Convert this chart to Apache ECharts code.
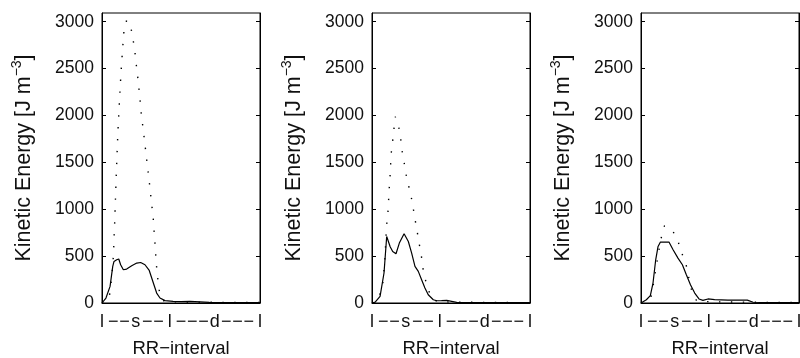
<!DOCTYPE html>
<html>
<head>
<meta charset="utf-8">
<script src="https://cdn.jsdelivr.net/npm/echarts@6/dist/echarts.min.js"></script>
<style>
html,body{margin:0;padding:0;background:#fff;}
#chart{width:800px;height:358px;}
</style>
</head>
<body>
<div id="chart"></div>
<script>
// x: position within RR-interval (0..100), y: kinetic energy [J m^-3]
const xTickLabels = ['l','−','−','s','−','−','l','−','−','−','d','−','−','−','l'];
const yTickValues = [0, 500, 1000, 1500, 2000, 2500, 3000];

const panel1Solid = [[0,0],[2.5,53],[5.1,177],[6.8,390],[7.6,443],[9.3,461],[10.6,469],[11.8,408],[13.5,355],[15.6,362],[18.8,397],[22,426],[24.5,432],[27.2,408],[29.9,347],[32.5,213],[34.6,106],[36.7,53],[39.9,25],[45,18],[50,15],[55.7,18],[62,12],[68,6],[80,4],[100,3]];
const panel1Dotted = [[0,0],[2.5,20],[4.5,60],[5.1,120],[6.3,300],[7.2,500],[8,850],[9,1350],[10,1800],[10.6,2008],[11,2136],[12,2450],[12.8,2652],[13.9,2903],[15.6,3015],[18.5,2918],[19.8,2797],[20.9,2669],[21.7,2541],[22.6,2413],[23.4,2286],[24.8,2030],[26.5,1790],[28.3,1530],[30,1280],[31.3,1080],[32.5,887],[33.5,639],[34.6,373],[35.4,248],[36.3,124],[37.8,35],[40,15],[50,10],[60,10],[70,8],[80,6],[100,5]];

const panel2Solid = [[0,0],[2,10],[5.1,70],[7.6,320],[9.3,709],[10.5,690],[11.5,600],[13.1,550],[15.2,525],[17.3,639],[20.3,738],[23,656],[25.1,532],[27.2,390],[29.3,337],[31.4,248],[33.5,160],[35.6,88],[38.8,35],[40.9,24],[44,25],[47.3,28],[50.4,18],[53.6,7],[60,4],[100,3]];
const panel2Dotted = [[0,0],[2.5,20],[4.6,70],[6.8,202],[8.1,450],[8.5,586],[9.3,841],[10.1,965],[10.5,1093],[10.9,1220],[11.4,1348],[11.8,1476],[12.2,1604],[13.1,1732],[13.9,1856],[14.7,1987],[16.9,1881],[18.2,1750],[19,1625],[20.3,1502],[21.5,1374],[23.2,1249],[24.9,1125],[26.2,1001],[27.4,877],[28.7,752],[30,621],[31.3,496],[32.2,373],[33.8,248],[36,124],[38.8,35],[42,15],[50,10],[70,6],[100,4]];

const panel3Solid = [[0,0],[3.4,35],[5.9,78],[7.6,213],[9.3,461],[10.8,603],[12.3,650],[17.7,650],[20.3,568],[23.4,479],[26.2,408],[28.7,301],[31.3,195],[34,106],[36.7,43],[39.2,28],[42.4,43],[46.6,35],[55,30],[62,30],[67.3,30],[71,8],[80,4],[100,3]];
const panel3Dotted = [[0,0],[3.5,25],[6.3,64],[7.6,177],[8.9,309],[10.1,437],[11.4,568],[12.7,688],[14.8,823],[17.5,800],[20.3,763],[23.7,645],[25.8,532],[28.4,419],[30.1,283],[31.3,177],[33,88],[35,30],[40,15],[50,12],[70,8],[100,5]];

const panels = [
  {solid: panel1Solid, dotted: panel1Dotted},
  {solid: panel2Solid, dotted: panel2Dotted},
  {solid: panel3Solid, dotted: panel3Dotted}
];

const FONT = 'Liberation Sans';
const FS = 17.5;
const TXT = '#111';
const gridLefts = [102, 372, 641];
const gridW = 158;
const gridTop = 13;
const gridH = 290;
const yMax = 3093;

const grid = gridLefts.map(l => ({
  left: l, top: gridTop, width: gridW, height: gridH,
  show: true, borderColor: '#000', borderWidth: 1,
  backgroundColor: 'transparent', containLabel: false, outerBoundsMode: 'none'
}));

const xAxis = [];
gridLefts.forEach((l, i) => {
  xAxis.push({
    type: 'value', gridIndex: i, min: 0, max: 100, position: 'bottom',
    axisLine: {show: true, lineStyle: {color: '#000', width: 1}},
    axisTick: {show: false}, axisLabel: {show: false}, splitLine: {show: false}
  });
});
gridLefts.forEach((l, i) => {
  xAxis.push({
    type: 'category', gridIndex: i, data: xTickLabels, boundaryGap: false, position: 'bottom',
    axisLine: {show: false}, axisTick: {show: false}, splitLine: {show: false},
    axisLabel: {interval: 0, fontFamily: FONT, fontSize: 18, color: TXT, margin: 10},
    name: 'RR−interval', nameLocation: 'middle', nameGap: 36,
    nameTextStyle: {fontFamily: FONT, fontSize: 18.5, color: TXT}
  });
});

const yAxis = [];
gridLefts.forEach((l, i) => {
  yAxis.push({
    type: 'value', gridIndex: i, min: 0, max: yMax, position: 'left',
    axisLine: {show: true, lineStyle: {color: '#000', width: 1}},
    axisTick: {show: true, inside: true, length: 4, customValues: yTickValues, lineStyle: {color: '#000'}},
    axisLabel: {customValues: yTickValues, formatter: v => String(v), fontFamily: FONT, fontSize: FS, color: TXT, margin: 8},
    splitLine: {show: false},
    name: '{a|Kinetic Energy [J m}{sup|−3}{a|]}', nameLocation: 'middle', nameGap: 64,
    nameTextStyle: {
      fontFamily: FONT, color: TXT,
      rich: {
        a: {fontFamily: FONT, fontSize: 21.5, color: TXT, lineHeight: 28, verticalAlign: 'middle'},
        sup: {fontFamily: FONT, fontSize: 14, color: TXT, lineHeight: 28, verticalAlign: 'top'}
      }
    }
  });
});
gridLefts.forEach((l, i) => {
  yAxis.push({
    type: 'value', gridIndex: i, min: 0, max: yMax, position: 'right',
    axisLine: {show: true, lineStyle: {color: '#000', width: 1}},
    axisTick: {show: true, inside: true, length: 4, customValues: yTickValues, lineStyle: {color: '#000'}},
    axisLabel: {show: false}, splitLine: {show: false}
  });
});

const series = [];
panels.forEach((p, i) => {
  series.push({
    type: 'line', xAxisIndex: i, yAxisIndex: i, data: p.dotted,
    symbol: 'none', smooth: false,
    lineStyle: {color: '#000', width: 1.4, type: [1.4, 10.5], cap: 'butt'}
  });
  series.push({
    type: 'line', xAxisIndex: i, yAxisIndex: i, data: p.solid,
    symbol: 'none', smooth: false,
    lineStyle: {color: '#000', width: 1.2}
  });
});

const chart = echarts.init(document.getElementById('chart'), null, {renderer: 'canvas'});
chart.setOption({
  animation: false,
  backgroundColor: '#fff',
  grid, xAxis, yAxis, series
});
</script>
</body>
</html>
